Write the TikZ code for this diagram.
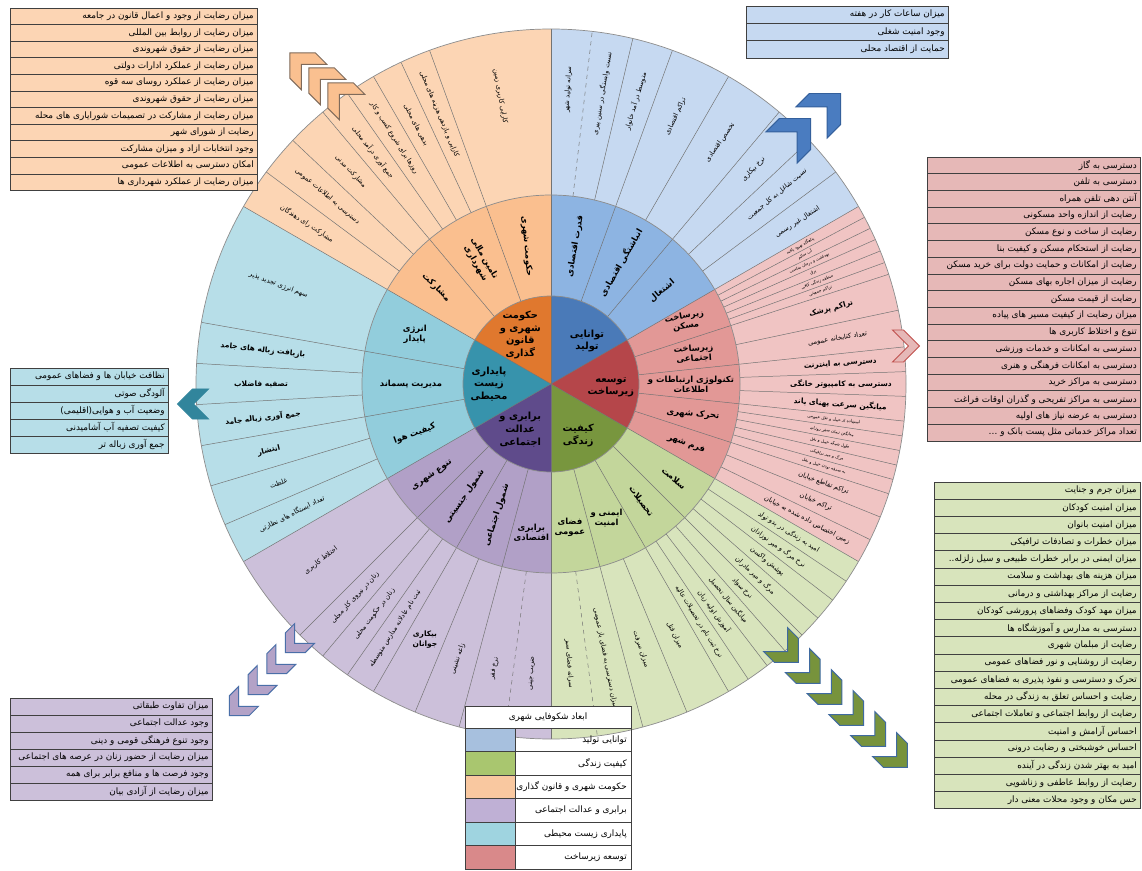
\documentclass[tikz,border=0pt]{standalone}
\usepackage{fontspec}
\newfontfamily\fa[Script=Arabic]{DejaVu Sans}
\TeXXeTstate=1
\usetikzlibrary{positioning}

% colours of the wheel
\definecolor{inBlue}{HTML}{4A7AB8}
\definecolor{inRed}{HTML}{B5464A}
\definecolor{inGreen}{HTML}{78963E}
\definecolor{inPurple}{HTML}{5F4B8B}
\definecolor{inCyan}{HTML}{3793AC}
\definecolor{inOrange}{HTML}{E0782E}
\definecolor{midBlue}{HTML}{8DB4E2}
\definecolor{midRed}{HTML}{E29896}
\definecolor{midGreen}{HTML}{C3D69B}
\definecolor{midPurple}{HTML}{B1A0C7}
\definecolor{midCyan}{HTML}{92CDDC}
\definecolor{midOrange}{HTML}{FABF8F}
\definecolor{outBlue}{HTML}{C6D9F1}
\definecolor{outRed}{HTML}{F0C4C3}
\definecolor{outGreen}{HTML}{D8E4BC}
\definecolor{outPurple}{HTML}{CCC0DA}
\definecolor{outCyan}{HTML}{B7DEE8}
\definecolor{outOrange}{HTML}{FCD5B4}
\definecolor{tabRed}{HTML}{E6B8B7}
% legend swatches
\definecolor{lgBlue}{HTML}{A7C0DE}
\definecolor{lgGreen}{HTML}{A9C66F}
\definecolor{lgOrange}{HTML}{F9C8A0}
\definecolor{lgPurple}{HTML}{BFB0D5}
\definecolor{lgCyan}{HTML}{9FD4E0}
\definecolor{lgRed}{HTML}{D9898A}
% chevrons
\definecolor{chOrange}{HTML}{FAC090}
\definecolor{chOrangeD}{HTML}{7F6A5A}
\definecolor{chBlue}{HTML}{4A7CC0}
\definecolor{chBlueD}{HTML}{34609C}
\definecolor{chRedD}{HTML}{C0504D}
\definecolor{chCyan}{HTML}{31859C}
\definecolor{chGreen}{HTML}{77933C}
\definecolor{chGreenD}{HTML}{3F6AA0}
\definecolor{chPurple}{HTML}{B3A2C7}
\definecolor{chPurpleD}{HTML}{4A6FA8}

% right-to-left text
\newcommand{\fx}[1]{{\fa\beginR #1\endR}}

% a filled wedge of the wheel
\newcommand{\sector}[4]{\fill[#4] (0,0) -- (#1:#3) arc (#1:#2:#3) -- cycle;}

% x, y, angle, half span, thickness, fill, edge
\newcommand{\chevron}[7]{%
  \filldraw[fill=#6, draw=#7, line width=0.7pt, shift={(#1,#2)}, rotate=#3]
    ({-(#4+#5)/2},#4) -- ({#5-(#4+#5)/2},#4) -- ({(#4+#5)/2},0)
    -- ({#5-(#4+#5)/2},-#4) -- ({-(#4+#5)/2},-#4) -- ({#4-(#4+#5)/2},0) -- cycle;
}

% a table of indicators: name, left, right, top, row height, colour, rows
\newcommand{\fatable}[7]{%
  \foreach \t [count=\i] in {#7} {
    \draw[rowline, fill=#6] (#2,{#4-\i*#5}) rectangle (#3,{#4-(\i-1)*#5});
    \node[rowtxt] (#1\i) at ({#3-3},{#4-(\i-0.5)*#5}) {\fx{\t}};
  }
}

\begin{document}
\begin{tikzpicture}[x=0.025cm, y=0.025cm,
    spoke/.style={draw=black!55, line width=0.35pt},
    ring/.style={draw=black!45, line width=0.5pt},
    rowline/.style={draw=black!75, line width=0.5pt},
    rowtxt/.style={anchor=east, inner sep=0pt, font=\fa\fontsize{6.3}{7}\selectfont},
    outlbl/.style={inner sep=0pt, font=\fa\fontsize{4.8}{5.5}\selectfont},
    outbold/.style={inner sep=0pt, align=center, font=\fa\bfseries\fontsize{5.3}{6.5}\selectfont},
    tinylbl/.style={inner sep=0pt, font=\fa\fontsize{3}{3.5}\selectfont},
    midlbl/.style={inner sep=0pt, align=center, font=\fa\bfseries\fontsize{6}{7.2}\selectfont},
    corelbl/.style={inner sep=0pt, align=center, font=\fa\bfseries\fontsize{7}{9}\selectfont}]

  \fill[white] (0,0) rectangle (1142,870);
  \useasboundingbox (0,0) rectangle (1142,870);

  % ---------------- Wheel ----------------
  \begin{scope}[shift={(551,486)}]
    % outer ring
    \sector{30}{90}{355}{outBlue}
    \sector{-30}{30}{355}{outRed}
    \sector{-90}{-30}{355}{outGreen}
    \sector{210}{270}{355}{outPurple}
    \sector{150}{210}{355}{outCyan}
    \sector{90}{150}{355}{outOrange}
    % middle ring
    \sector{30}{90}{189}{midBlue}
    \sector{-30}{30}{189}{midRed}
    \sector{-90}{-30}{189}{midGreen}
    \sector{210}{270}{189}{midPurple}
    \sector{150}{210}{189}{midCyan}
    \sector{90}{150}{189}{midOrange}
    % core
    \sector{30}{90}{88}{inBlue}
    \sector{-30}{30}{88}{inRed}
    \sector{-90}{-30}{88}{inGreen}
    \sector{210}{270}{88}{inPurple}
    \sector{150}{210}{88}{inCyan}
    \sector{90}{150}{88}{inOrange}

    % boundaries of the six dimensions
    \foreach \a in {90,30,-30,-90,-150,150}
      \draw[spoke] (0,0) -- (\a:355);
    % boundaries of the sub-dimensions
    \foreach \a in {70,50,18,6,-6,-18,-45,-60,-75,-105,-120,-135,190,170,130,110}
      \draw[spoke] (\a:88) -- (\a:355);
    % boundaries of the indicators
    \foreach \a in {76.67,60,43.33,36.67,28,26,24,22,20,12,2,-2,-8.4,-10.8,-13.2,-15.6,-22,-26,
                    -33.75,-37.5,-41.25,-48.75,-52.5,-56.25,-67.5,247.5,230,235,
                    176.67,183.33,196.67,203.33,115,120,125,136.67,143.33}
      \draw[spoke] (\a:189) -- (\a:355);
    \foreach \a in {83.33,-82.5,262.5}
      \draw[spoke, dashed] (\a:189) -- (\a:355);

    \draw[ring] (0,0) circle (88);
    \draw[ring] (0,0) circle (189);
    \draw[ring] (0,0) circle (355);

    % core labels
    \node[corelbl] (cBlue) at (50:56) {\fx{توانایی}\\\fx{تولید}};
    \node[corelbl] (cRed) at (-3:60) {\fx{توسعه}\\\fx{زیرساخت}};
    \node[corelbl] (cGreen) at (-62:58) {\fx{کیفیت}\\\fx{زندگی}};
    \node[corelbl] (cPurple) at (-124:55) {\fx{برابری و}\\\fx{عدالت}\\\fx{اجتماعی}};
    \node[corelbl] (cCyan) at (180:62) {\fx{پایداری}\\\fx{زیست}\\\fx{محیطی}};
    \node[corelbl] (cOrange) at (122:58) {\fx{حکومت}\\\fx{شهری و}\\\fx{قانون}\\\fx{گذاری}};

    % sub-dimension labels
    \node[midlbl, rotate=80] (mB1) at (80:140) {\fx{قدرت اقتصادی}};
    \node[midlbl, rotate=60] (mB2) at (60:140) {\fx{انباشتگی اقتصادی}};
    \node[midlbl, rotate=40] (mB3) at (40:145) {\fx{اشتغال}};
    \node[midlbl, rotate=10] (mR1) at (25:148) {\fx{زیرساخت}\\\fx{مسکن}};
    \node[midlbl, rotate=4] (mR2) at (12:146) {\fx{زیرساخت}\\\fx{اجتماعی}};
    \node[midlbl] (mR3) at (0:140) {\fx{تکنولوژی ارتباطات و}\\\fx{اطلاعات}};
    \node[midlbl, rotate=-5] (mR4) at (-12:145) {\fx{تحرک شهری}};
    \node[midlbl, rotate=-20] (mR5) at (-24:148) {\fx{فرم شهر}};
    \node[midlbl, rotate=-42] (mG1) at (-37.5:155) {\fx{سلامت}};
    \node[midlbl, rotate=-55] (mG2) at (-52.5:148) {\fx{تحصیلات}};
    \node[midlbl] (mG3) at (-67.5:145) {\fx{ایمنی و}\\\fx{امنیت}};
    \node[midlbl] (mG4) at (-82.5:145) {\fx{فضای}\\\fx{عمومی}};
    \node[midlbl] (mP1) at (262.5:150) {\fx{برابری}\\\fx{اقتصادی}};
    \node[midlbl, rotate=72] (mP2) at (247.5:142) {\fx{شمول اجتماعی}};
    \node[midlbl, rotate=55] (mP3) at (232.5:142) {\fx{شمول جنسیتی}};
    \node[midlbl, rotate=35] (mP4) at (217.5:150) {\fx{تنوع شهری}};
    \node[midlbl] (mC1) at (160:145) {\fx{انرژی}\\\fx{پایدار}};
    \node[midlbl] (mC2) at (180:140) {\fx{مدیریت پسماند}};
    \node[midlbl, rotate=20] (mC3) at (200:145) {\fx{کیفیت هوا}};
    \node[midlbl, rotate=-45] (mO1) at (140:150) {\fx{مشارکت}};
    \node[midlbl, rotate=-60] (mO2) at (120:142) {\fx{تامین مالی}\\\fx{شهرداری}};
    \node[midlbl, rotate=-85] (mO3) at (100:140) {\fx{حکومت شهری}};

    % indicator labels, right half
    \foreach \a/\t [count=\i] in {86.67/سرانه تولید شهر, 80/نسبت وابستگی در سنین پیری,
        73.33/متوسط در آمد خانوار, 65/تراکم اقتصادی, 55/تخصص اقتصادی, 46.67/نرخ بیکاری,
        40/نسبت شاغل به کل جمعیت, 33.33/اشتغال غیر رسمی}
      \node[outlbl, rotate=\a] (oB\i) at (\a:295) {\fx{\t}};
    \foreach \a/\t [count=\i] in {29/پناهگاه بهبود یافته, 27/آب سالم, 25/بهداشت و درمان مناسب,
        23/برق, 21/منطقه زندگی کافی, 19/تراکم جمعیتی, -7.2/استفاده از حمل و نقل عمومی,
        -9.6/میانگین زمان سفر روزانه, -12/طول شبکه حمل و نقل, -14.4/مرگ و میر ترافیکی,
        -16.8/به صرفه بودن حمل و نقل}
      \node[tinylbl, rotate=\a] (oRt\i) at (\a:285) {\fx{\t}};
    \foreach \a/\t [count=\i] in {15/تراکم پزشک, 4/دسترسی به اینترنت,
        0/دسترسی به کامپیوتر خانگی, -4/میانگین سرعت پهنای باند}
      \node[outbold, rotate=\a] (oRb\i) at (\a:290) {\fx{\t}};
    \foreach \a/\t [count=\i] in {9/تعداد کتابخانه عمومی, -20/تراکم تقاطع خیابان,
        -24/تراکم خیابان, -28/زمین اختصاص داده شده به خیابان}
      \node[outlbl, rotate=\a] (oR\i) at (\a:290) {\fx{\t}};
    \foreach \a/\t [count=\i] in {-31.875/امید به زندگی در بدو تولد, -35.625/نرخ مرگ و میر نوزادان,
        -39.375/پوشش واکسن, -43.125/مرگ و میر مادران, -46.875/نرخ سواد,
        -50.625/میانگین سال تحصیل, -54.375/آموزش اولیه زبان,
        -58.125/نرخ ثبت نام در تحصیلات عالیه, -63.75/میزان قتل, -71.25/میزان سرقت,
        -78.75/میزان دسترسی به فضای باز عمومی, -86.25/سرانه فضای سبز}
      \node[outlbl, rotate=\a] (oG\i) at (\a:280) {\fx{\t}};

    % indicator labels, left half
    \foreach \a/\t [count=\i] in {217.5/اختلاط کاربری, 227.5/زنان در نیروی کار محلی,
        232.5/زنان در حکومت محلی, 237.5/ثبت نام عادلانه مدارس متوسطه,
        251.25/زاغه نشینی, 258.75/نرخ فقر, 266.25/ضریب جینی}
      \node[outlbl, rotate=\a-180] (oP\i) at (\a:290) {\fx{\t}};
    \node[outbold] (oP8) at (243.75:285) {\fx{بیکاری}\\\fx{جوانان}};
    \foreach \a/\t [count=\i] in {160/سهم انرژی تجدید پذیر, 200/غلظت,
        206.67/تعداد ایستگاه های نظارتی}
      \node[outlbl, rotate=\a-180] (oC\i) at (\a:290) {\fx{\t}};
    \foreach \a/\t [count=\i] in {173.33/بازیافت زباله های جامد, 180/تصفیه فاضلاب,
        186.67/جمع آوری زباله جامد, 193.33/انتشار}
      \node[outbold, rotate=\a-180] (oCb\i) at (\a:290) {\fx{\t}};
    \foreach \a/\t [count=\i] in {100/کارایی کاربری زمین, 112.5/کارایی و بازدهی هزینه های محلی,
        117.5/بدهی های محلی, 122.5/روزها برای شروع کسب و کار, 127.5/جمع آوری درآمد محلی,
        133.33/مشارکت مدنی, 140/دسترسی به اطلاعات عمومی, 146.67/مشارکت رای دهندگان}
      \node[outlbl, rotate=\a-180] (oO\i) at (\a:292) {\fx{\t}};
  \end{scope}

  % ---------------- Chevrons ----------------
  \chevron{340}{775}{135}{18}{16}{chOrange}{chOrangeD}
  \chevron{321}{790}{135}{18}{16}{chOrange}{chOrangeD}
  \chevron{302}{805}{135}{18}{16}{chOrange}{chOrangeD}
  \chevron{796}{737}{45}{22}{19}{chBlue}{chBlueD}
  \chevron{826}{762}{45}{22}{19}{chBlue}{chBlueD}
  \chevron{906}{524}{0}{16}{11}{tabRed}{chRedD}
  \chevron{193}{466}{180}{15}{16}{chCyan}{chCyan}
  \foreach \k in {0,1,2,3,4,5} {
    \chevron{787+21.8*\k}{219-21*\k}{-45}{17}{15}{chGreen}{chGreenD}
  }
  \foreach \k in {0,1,2,3} {
    \chevron{295-18.7*\k}{227-21*\k}{225}{14}{13}{chPurple}{chPurpleD}
  }

  % ---------------- Tables ----------------
  \fatable{tO}{10}{257}{862}{16.6}{outOrange}{%
    میزان رضایت از وجود و اعمال قانون در جامعه,
    میزان رضایت از روابط بین المللی,
    میزان رضایت از حقوق شهروندی,
    میزان رضایت از عملکرد  ادارات دولتی,
    میزان رضایت از عملکرد روسای سه قوه,
    میزان رضایت از حقوق شهروندی,
    میزان رضایت از مشارکت در تصمیمات  شورایاری های محله,
    رضایت از شورای شهر,
    وجود انتخابات ازاد و میزان مشارکت,
    امکان دسترسی به اطلاعات عمومی,
    میزان رضایت از عملکرد شهرداری ها}
  \fatable{tB}{746}{948}{864}{17.3}{outBlue}{%
    میزان ساعات کار در هفته,
    وجود امنیت شغلی,
    حمایت از اقتصاد محلی}
  \fatable{tR}{927}{1140}{713}{16.7}{tabRed}{%
    دسترسی به گاز,
    دسترسی به تلفن,
    آنتن دهی تلفن همراه,
    رضایت از اندازه واحد مسکونی,
    رضایت از ساخت و نوع مسکن,
    رضایت از استحکام مسکن و کیفیت بنا,
    رضایت از امکانات و حمایت دولت برای خرید مسکن,
    رضایت از میزان اجاره بهای مسکن,
    رضایت از قیمت مسکن,
    میزان رضایت از کیفیت مسیر های پیاده,
    تنوع و اختلاط کاربری ها,
    دسترسی به امکانات و خدمات ورزشی,
    دسترسی به امکانات فرهنگی و هنری,
    دسترسی  به مراکز خرید,
    دسترسی به مراکز تفریحی و گذران اوقات فراغت,
    دسترسی به عرضه نیاز های اولیه,
    تعداد مراکز خدماتی مثل پست بانک و \ldots}
  \fatable{tC}{10}{168}{502}{17}{outCyan}{%
    نظافت خیابان ها و فضاهای عمومی,
    آلودگی صوتی,
    {وضعیت آب و هوایی(اقلیمی)},
    کیفیت تصفیه آب آشامیدنی,
    جمع آوری زباله تر}
  \fatable{tG}{934}{1140}{388}{17.2}{outGreen}{%
    میزان جرم و جنایت,
    میزان امنیت کودکان,
    میزان امنیت بانوان,
    میزان خطرات و تصادفات ترافیکی,
    {میزان ایمنی در برابر خطرات طبیعی و سیل زلزله.\kern0pt.},
    میزان هزینه های بهداشت و سلامت,
    رضایت از مراکز بهداشتی و درمانی,
    میزان مهد کودک وفضاهای پرورشی کودکان,
    دسترسی به مدارس و آموزشگاه ها,
    رضایت از مبلمان شهری,
    رضایت از روشنایی و نور فضاهای عمومی,
    تحرک و دسترسی و نفوذ پذیری به فضاهای عمومی,
    رضایت و احساس تعلق به زندگی در محله,
    رضایت از روابط اجتماعی و تعاملات اجتماعی,
    احساس آرامش و امنیت,
    احساس خوشبختی و رضایت درونی,
    امید به بهتر شدن زندگی در آینده,
    رضایت از روابط عاطفی و زناشویی,
    حس مکان و وجود محلات معنی دار}
  \fatable{tP}{10}{212}{172}{17}{outPurple}{%
    میزان تفاوت طبقاتی,
    وجود عدالت اجتماعی,
    وجود تنوع فرهنگی قومی و دینی,
    میزان رضایت از حضور زنان در عرصه های اجتماعی,
    وجود فرصت ها و منافع برابر برای همه,
    میزان رضایت از آزادی بیان}

  % ---------------- Legend ----------------
  \draw[rowline, fill=white] (465,142) rectangle (631,164);
  \node[rowtxt, anchor=center] (lgHead) at (548,153) {\fx{ابعاد شکوفایی شهری}};
  \foreach \c/\t [count=\i] in {lgBlue/توانایی تولید, lgGreen/کیفیت زندگی,
      lgOrange/حکومت شهری و قانون گذاری, lgPurple/برابری و عدالت اجتماعی,
      lgCyan/پایداری زیست محیطی, lgRed/توسعه زیرساخت} {
    \draw[rowline, fill=\c] (465,{142-\i*23.5}) rectangle (515,{142-(\i-1)*23.5});
    \draw[rowline] (515,{142-\i*23.5}) rectangle (631,{142-(\i-1)*23.5});
    \node[rowtxt] (lg\i) at (627,{142-(\i-0.5)*23.5}) {\fx{\t}};
  }
\end{tikzpicture}
\end{document}
